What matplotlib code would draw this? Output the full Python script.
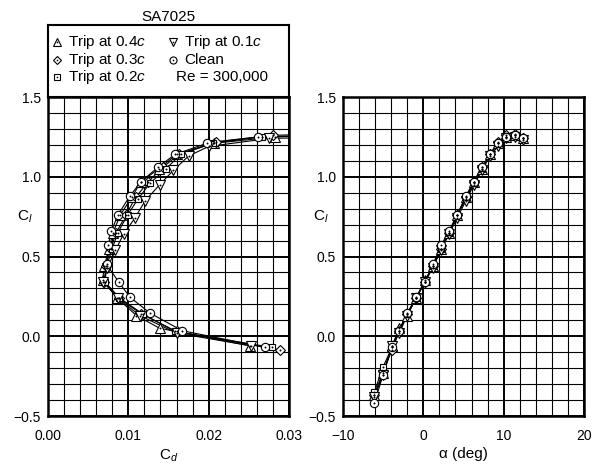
import matplotlib
matplotlib.use('Agg')
import matplotlib.pyplot as plt
import numpy as np
from matplotlib.ticker import MultipleLocator, FuncFormatter

plt.rcParams['font.family'] = ['Liberation Sans', 'DejaVu Sans']
plt.rcParams['mathtext.fontset'] = 'custom'
plt.rcParams['mathtext.rm'] = 'Liberation Sans'
plt.rcParams['mathtext.it'] = 'Liberation Sans:italic'

# angle of attack (deg), shared by all runs
alpha = [-6.1, -5.0, -3.9, -3.0, -2.0, -0.9, 0.2, 1.2, 2.2, 3.2, 4.2, 5.3, 6.3, 7.3, 8.3, 9.3, 10.3, 11.4, 12.4]

# lift coefficient per run
cl_trip04 = [-0.37, -0.23, -0.06, 0.05, 0.13, 0.24, 0.35, 0.44, 0.55, 0.65, 0.76, 0.87, 0.97, 1.05, 1.14, 1.21, 1.25, 1.26, 1.24]
cl_trip03 = [-0.37, -0.22, -0.086, 0.03, 0.14, 0.24, 0.34, 0.44, 0.55, 0.65, 0.76, 0.87, 0.97, 1.06, 1.14, 1.22, 1.26, 1.27, 1.24]
cl_trip02 = [-0.35, -0.19, -0.07, 0.03, 0.14, 0.24, 0.34, 0.44, 0.55, 0.65, 0.76, 0.86, 0.96, 1.05, 1.14, 1.21, 1.25, 1.26, 1.24]
cl_trip01 = [-0.38, -0.24, -0.06, 0.02, 0.13, 0.24, 0.34, 0.43, 0.54, 0.64, 0.74, 0.85, 0.95, 1.04, 1.13, 1.19, 1.24, 1.25, 1.23]
cl_clean = [-0.42, -0.24, -0.07, 0.035, 0.145, 0.245, 0.34, 0.45, 0.57, 0.66, 0.76, 0.88, 0.97, 1.06, 1.14, 1.21, 1.25, 1.26, 1.24]

# drag coefficient per run (not measured at the two lowest angles)
nan = np.nan
cd_trip04 = [nan, nan, 0.0251, 0.0139, 0.0110, 0.0086, 0.0068, 0.0070, 0.0076, 0.0081, 0.0090, 0.0104, 0.0116, 0.0138, 0.0160, 0.0207, 0.0283, 0.0360, 0.0450]
cd_trip03 = [nan, nan, 0.0289, 0.0160, 0.0116, 0.0088, 0.0070, 0.0072, 0.0078, 0.0085, 0.0097, 0.0109, 0.0125, 0.0143, 0.0163, 0.0209, 0.0280, 0.0365, 0.0455]
cd_trip02 = [nan, nan, 0.0279, 0.0158, 0.0118, 0.0089, 0.0071, 0.0073, 0.0080, 0.0087, 0.0099, 0.0112, 0.0127, 0.0147, 0.0165, 0.0205, 0.0266, 0.0355, 0.0440]
cd_trip01 = [nan, nan, 0.0253, 0.0160, 0.0114, 0.0087, 0.0069, 0.0074, 0.0084, 0.0094, 0.0108, 0.0121, 0.0139, 0.0156, 0.0175, 0.0200, 0.0275, 0.0360, 0.0450]
cd_clean = [nan, nan, 0.0270, 0.0167, 0.0127, 0.0102, 0.0088, 0.0073, 0.0075, 0.0079, 0.0087, 0.0102, 0.0116, 0.0137, 0.0158, 0.0198, 0.0262, 0.0350, 0.0440]

labels = ['Trip at 0.4$c$', 'Trip at 0.3$c$', 'Trip at 0.2$c$', 'Trip at 0.1$c$', 'Clean']
markers = ['^', 'D', 's', 'v', 'o']
msizes = [6.5, 5.0, 5.0, 6.5, 6.0]
series = [(cl_trip04, cd_trip04), (cl_trip03, cd_trip03), (cl_trip02, cd_trip02),
          (cl_trip01, cd_trip01), (cl_clean, cd_clean)]

fig = plt.figure(figsize=(5.97, 4.71), dpi=100)
W, H = 597, 471
ax1 = fig.add_axes([48/W, 1 - 416/H, 241/W, 319/H])
ax2 = fig.add_axes([343/W, 1 - 416/H, 241/W, 319/H])
axl = fig.add_axes([48/W, 1 - 97/H, 241/W, 72/H])


def draw(ax, x, y, m, ms):
    ax.plot(x, y, color='black', lw=0.8, zorder=3)
    ax.plot(x, y, ls='none', marker=m, ms=ms, mfc='white', mec='black', mew=0.8, zorder=4)
    ax.plot(x, y, ls='none', marker='o', ms=1.4, mfc='black', mec='black', mew=0, zorder=5)


for (cl, cd), m, ms in zip(series, markers, msizes):
    draw(ax1, cd, cl, m, ms)
    draw(ax2, alpha, cl, m, ms)

ax1.set_xlim(0, 0.03)
ax2.set_xlim(-10, 20)
minus = lambda s: s.replace('-', '\u2212')
for ax, xmaj, xmin in ((ax1, 0.01, 0.002), (ax2, 10, 2)):
    ax.set_ylim(-0.5, 1.5)
    ax.xaxis.set_major_locator(MultipleLocator(xmaj))
    ax.xaxis.set_minor_locator(MultipleLocator(xmin))
    ax.yaxis.set_major_locator(MultipleLocator(0.5))
    ax.yaxis.set_minor_locator(MultipleLocator(0.1))
    ax.grid(True, which='minor', color='black', lw=0.8, zorder=1)
    ax.grid(True, which='major', color='black', lw=1.4, zorder=1)
    ax.tick_params(which='both', length=0, labelsize=10)
    ax.tick_params(axis='x', pad=9)
    ax.tick_params(axis='y', pad=5)
    for s in ax.spines.values():
        s.set_linewidth(1.8)
        s.set_zorder(6)
    ax.yaxis.set_major_formatter(FuncFormatter(lambda v, p: minus(f'{v:.1f}')))
    ax.set_ylabel('C$_l$', rotation=0, fontsize=11)

ax1.xaxis.set_major_formatter(FuncFormatter(lambda v, p: f'{v:.2f}'))
ax2.xaxis.set_major_formatter(FuncFormatter(lambda v, p: minus(f'{v:.0f}')))

ax1.yaxis.set_label_coords(-0.095, 0.6)
ax2.yaxis.set_label_coords(-0.091, 0.6)
ax1.set_xlabel('C$_d$', fontsize=11, labelpad=4)
ax2.set_xlabel('\u03b1 (deg)', fontsize=11, labelpad=3)

# legend box above the polar
axl.set_xlim(0, 241)
axl.set_ylim(72, 0)
axl.set_xticks([])
axl.set_yticks([])
for s in axl.spines.values():
    s.set_linewidth(1.5)
axl.set_title('SA7025', fontsize=11, pad=3)
pos = [(9, 17), (9, 35), (9, 52), (125, 17), (125, 35)]
for (px, py), lab, m, ms in zip(pos, labels, markers, msizes):
    axl.plot([px], [py], marker=m, ms=ms * 0.85, mfc='white', mec='black', mew=0.8, ls='none')
    axl.plot([px], [py], marker='o', ms=1.2, mfc='black', mec='black', mew=0, ls='none')
    axl.text(px + 11, py, lab, fontsize=11, va='center', ha='left')
axl.text(128, 52, 'Re = 300,000', fontsize=11, va='center', ha='left')

fig.savefig('out.png', dpi=100)
